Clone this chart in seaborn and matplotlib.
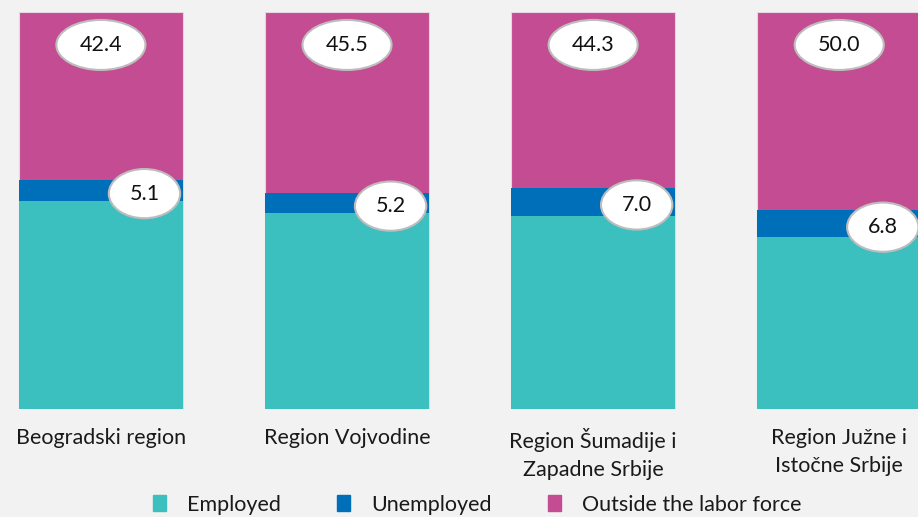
import numpy as np
import pandas as pd
import seaborn as sns
import matplotlib.pyplot as plt
from matplotlib.patches import Ellipse, Patch

regions = ["Beogradski region", "Region Vojvodine",
           "Region Šumadije i\nZapadne Srbije", "Region Južne i\nIstočne Srbije"]
unemployed = [5.1, 5.2, 7.0, 6.8]
outside = [42.4, 45.5, 44.3, 50.0]
employed = [100 - u - o for u, o in zip(unemployed, outside)]

c_emp = "#3BBFBF"
c_unemp = "#006FBA"
c_out = "#C44C92"
bg = "#F2F2F2"

df = pd.DataFrame({"region": regions, "employed": employed,
                   "unemployed": unemployed, "outside": outside})
df["emp_unemp"] = df["employed"] + df["unemployed"]
df["total"] = df["emp_unemp"] + df["outside"]

sns.set_style("white")
plt.rcParams["font.family"] = ["Lato", "DejaVu Sans"]

fig = plt.figure(figsize=(9.18, 5.17), dpi=100, facecolor=bg)
ax = fig.add_axes([0, 0.2089, 1, 0.7679])
ax.set_facecolor(bg)

# stacked look: draw cumulative totals from the top layer down
sns.barplot(data=df, x="region", y="total", color=c_out, width=0.667,
            saturation=1, edgecolor="#E6D6E0", linewidth=0.8, ax=ax)
sns.barplot(data=df, x="region", y="emp_unemp", color=c_unemp, width=0.667,
            saturation=1, linewidth=0, ax=ax)
sns.barplot(data=df, x="region", y="employed", color=c_emp, width=0.667,
            saturation=1, linewidth=0, ax=ax)

ax.set_xlim(-0.41, 3.32)
ax.set_ylim(0, 100)
ax.set_xlabel("")
ax.set_ylabel("")
ax.set_yticks([])
ax.tick_params(axis="x", length=0, pad=14, labelsize=15.5, colors="#1a1a1a")
for lbl in ax.get_xticklabels():
    lbl.set_linespacing(1.45)
for s in ax.spines.values():
    s.set_visible(False)

# ellipse labels
for i, row in df.iterrows():
    y_out = 91.7
    ax.add_patch(Ellipse((i, y_out), 0.362, 12.6, facecolor="white",
                         edgecolor="#BDBDBD", lw=1.5, zorder=5, clip_on=False))
    ax.text(i, y_out, f"{row['outside']:.1f}", ha="center", va="center",
            fontsize=15.5, color="#111111", zorder=6)
    y_un = row["employed"] + row["unemployed"] / 2 - 0.8
    ax.add_patch(Ellipse((i + 0.177, y_un), 0.29, 12.4, facecolor="white",
                         edgecolor="#BDBDBD", lw=1.5, zorder=5, clip_on=False))
    ax.text(i + 0.177, y_un, f"{row['unemployed']:.1f}", ha="center", va="center",
            fontsize=15.5, color="#111111", zorder=6)

handles = [Patch(color=c_emp, label="Employed"),
           Patch(color=c_unemp, label="Unemployed"),
           Patch(color=c_out, label="Outside the labor force")]
fig.legend(handles=handles, loc="lower center", bbox_to_anchor=(0.52, -0.033),
           ncol=3, frameon=False, fontsize=15.5, handlelength=0.6, handleheight=0.8,
           handletextpad=1.0, columnspacing=2.6, labelcolor="#1a1a1a")

fig.savefig("out.png", dpi=100, facecolor=bg)
